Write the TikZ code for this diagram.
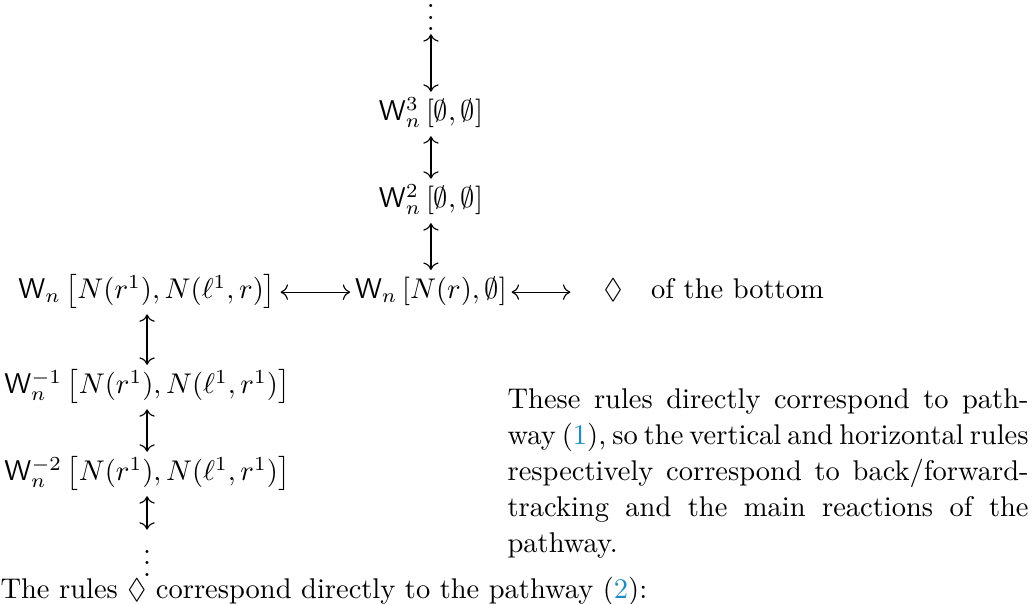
\documentclass[tikz,border=0pt]{standalone}
\usepackage{amsmath,amssymb}
\usepackage{xcolor}
\usepackage{tikz}
\usetikzlibrary{arrows.meta,positioning}
\definecolor{lnk}{RGB}{30,140,190}
\newcommand{\Wt}{\mathsf{W}}
\newcommand{\fullline}[1]{{\spaceskip=0pt\xspaceskip=0pt\makebox[182.8pt][s]{#1}}}

\begin{document}
\begin{tikzpicture}[
      x=1pt, y=1pt,
      >={Computer Modern Rightarrow[length=2.6pt,width=5.4pt]},
      state/.style={inner xsep=1.5pt, inner ysep=0pt, text height=7pt, text depth=2.5pt, minimum height=15.2pt},
      dots/.style={inner sep=1pt, anchor=base},
      rule/.style={<->, line width=0.4pt},
]
\useasboundingbox (0,0) rectangle (362.8,-211.6);

% upper column
\node[dots] (top) at (151.2,-10.8) {$\vdots$};
\node[state] (w3) at (151.2,-40) {$\Wt_n^3\left[\emptyset,\emptyset\right]$};
\node[state] (w2) at (151.2,-70.5) {$\Wt_n^2\left[\emptyset,\emptyset\right]$};
\node[state] (wr) at (151.2,-102.5) {$\Wt_n\left[N(r),\emptyset\right]$};
\node[state, right=20.6pt of wr] (diab) {$\quad\Diamond\quad$of the bottom};

% lower column
\node[state] (wl) at (51.6,-102.5) {$\Wt_n\left[N(r^1),N(\ell^1,r)\right]$};
\node[state] (wm1) at (51.6,-135.8) {$\Wt_n^{-1}\left[N(r^1),N(\ell^1,r^1)\right]$};
\node[state] (wm2) at (51.6,-166.3) {$\Wt_n^{-2}\left[N(r^1),N(\ell^1,r^1)\right]$};
\node[dots] (bot) at (51.6,-202.1) {$\vdots$};

\draw[rule] (top) -- (w3);
\draw[rule] (w3) -- (w2);
\draw[rule] (w2) -- (wr);
\draw[rule] (wl) -- (wr);
\draw[rule] (wr) -- (diab);
\draw[rule] (wl) -- (wm1);
\draw[rule] (wm1) -- (wm2);
\draw[rule] (wm2) -- (bot);

% text round the diagram
\node[anchor=north west, inner sep=0pt, text width=182.8pt, align=left, font={\fontsize{10}{12.6}\selectfont}] (remark) at (177.9,-136.3) {\fullline{These rules directly correspond to path-}\\
  \fullline{\spaceskip=.22em plus .1em minus .05em way (\textcolor{lnk}{1}), so the vertical and horizontal rules}\\
  \fullline{respectively correspond to back/forward-}\\
  \fullline{tracking and the main reactions of the}\\
  pathway.};
\node[anchor=base west, inner sep=0pt] (closing) at (0,-210) {The rules $\Diamond$ correspond directly to the pathway (\textcolor{lnk}{2}):};

\end{tikzpicture}
\end{document}
